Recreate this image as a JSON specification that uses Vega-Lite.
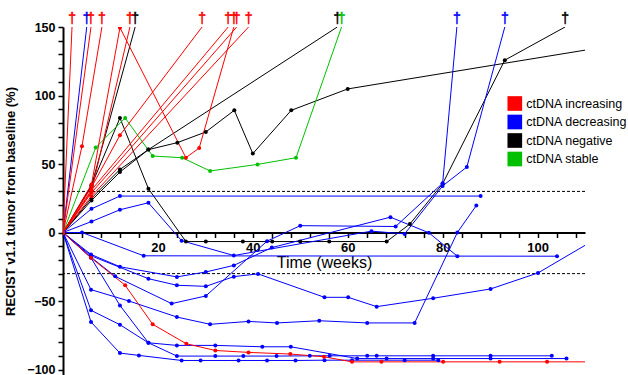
{
  "$schema": "https://vega.github.io/schema/vega-lite/v6.json",
  "width": 522,
  "height": 348,
  "autosize": {"type": "none"},
  "padding": {"left": 63, "top": 27, "right": 43, "bottom": 0},
  "background": "white",
  "config": {
    "view": {"stroke": null},
    "font": "Liberation Sans",
    "axis": {"grid": false, "domainColor": "black", "tickColor": "black", "labelColor": "black", "titleColor": "black"}
  },
  "resolve": {"legend": {"color": "independent", "stroke": "independent"}},
  "datasets": {
    "thresholds": [{"level": 30}, {"level": -30}],
    "patients": [
      {"id": "K1", "g": "ctDNA negative", "t": 0, "v": 0},
      {"id": "K1", "g": "ctDNA negative", "t": 6, "v": 34},
      {"id": "K1", "g": "ctDNA negative", "t": 15.2, "v": 150, "d": 1},
      {"id": "K2", "g": "ctDNA negative", "t": 0, "v": 0},
      {"id": "K2", "g": "ctDNA negative", "t": 6, "v": 34.4},
      {"id": "K2", "g": "ctDNA negative", "t": 12, "v": 83.6},
      {"id": "K2", "g": "ctDNA negative", "t": 18, "v": 32},
      {"id": "K2", "g": "ctDNA negative", "t": 25.9, "v": -6.6},
      {"id": "K2", "g": "ctDNA negative", "t": 30.1, "v": -6.6},
      {"id": "K2", "g": "ctDNA negative", "t": 37.9, "v": -6.6},
      {"id": "K2", "g": "ctDNA negative", "t": 44.1, "v": -6.6},
      {"id": "K2", "g": "ctDNA negative", "t": 50, "v": -6.6},
      {"id": "K2", "g": "ctDNA negative", "t": 56.1, "v": -6.6},
      {"id": "K2", "g": "ctDNA negative", "t": 68.2, "v": -6.6},
      {"id": "K2", "g": "ctDNA negative", "t": 73.1, "v": 6.2},
      {"id": "K2", "g": "ctDNA negative", "t": 80, "v": 35.6},
      {"id": "K2", "g": "ctDNA negative", "t": 93.1, "v": 125.8},
      {"id": "K2", "g": "ctDNA negative", "t": 105.8, "v": 150, "d": 1},
      {"id": "K3", "g": "ctDNA negative", "t": 0, "v": 0},
      {"id": "K3", "g": "ctDNA negative", "t": 6, "v": 23.4},
      {"id": "K3", "g": "ctDNA negative", "t": 12, "v": 44.1},
      {"id": "K3", "g": "ctDNA negative", "t": 18, "v": 60.5},
      {"id": "K3", "g": "ctDNA negative", "t": 57.8, "v": 150, "d": 1},
      {"id": "K4", "g": "ctDNA negative", "t": 0, "v": 0},
      {"id": "K4", "g": "ctDNA negative", "t": 6, "v": 25},
      {"id": "K4", "g": "ctDNA negative", "t": 12, "v": 46},
      {"id": "K4", "g": "ctDNA negative", "t": 18, "v": 60.5},
      {"id": "K4", "g": "ctDNA negative", "t": 24.1, "v": 65.6},
      {"id": "K4", "g": "ctDNA negative", "t": 30.1, "v": 73.4},
      {"id": "K4", "g": "ctDNA negative", "t": 36.1, "v": 89.2},
      {"id": "K4", "g": "ctDNA negative", "t": 40, "v": 57.6},
      {"id": "K4", "g": "ctDNA negative", "t": 48.1, "v": 89.2},
      {"id": "K4", "g": "ctDNA negative", "t": 60, "v": 104.8},
      {"id": "K4", "g": "ctDNA negative", "t": 116, "v": 136.5},
      {"id": "G1", "g": "ctDNA stable", "t": 0, "v": 0},
      {"id": "G1", "g": "ctDNA stable", "t": 6.9, "v": 62},
      {"id": "G1", "g": "ctDNA stable", "t": 13.1, "v": 83.6},
      {"id": "G1", "g": "ctDNA stable", "t": 18.9, "v": 55.8},
      {"id": "G1", "g": "ctDNA stable", "t": 25.1, "v": 54.6},
      {"id": "G1", "g": "ctDNA stable", "t": 31, "v": 44.9},
      {"id": "G1", "g": "ctDNA stable", "t": 41, "v": 49.7},
      {"id": "G1", "g": "ctDNA stable", "t": 49.1, "v": 54.6},
      {"id": "G1", "g": "ctDNA stable", "t": 58.7, "v": 150, "d": 1},
      {"id": "B1", "g": "ctDNA decreasing", "t": 0, "v": 0},
      {"id": "B1", "g": "ctDNA decreasing", "t": 5, "v": 150, "d": 1},
      {"id": "B2", "g": "ctDNA decreasing", "t": 0, "v": 0},
      {"id": "B2", "g": "ctDNA decreasing", "t": 6, "v": 17.3},
      {"id": "B2", "g": "ctDNA decreasing", "t": 12, "v": 26.6},
      {"id": "B2", "g": "ctDNA decreasing", "t": 88, "v": 26.6},
      {"id": "B3", "g": "ctDNA decreasing", "t": 0, "v": 0},
      {"id": "B3", "g": "ctDNA decreasing", "t": 6, "v": 8},
      {"id": "B3", "g": "ctDNA decreasing", "t": 12, "v": 16.6},
      {"id": "B3", "g": "ctDNA decreasing", "t": 18, "v": 21.7},
      {"id": "B3", "g": "ctDNA decreasing", "t": 25, "v": -6},
      {"id": "B3", "g": "ctDNA decreasing", "t": 36, "v": -16.8},
      {"id": "B3", "g": "ctDNA decreasing", "t": 65, "v": 1},
      {"id": "B3", "g": "ctDNA decreasing", "t": 72, "v": -1},
      {"id": "B3", "g": "ctDNA decreasing", "t": 80, "v": 34},
      {"id": "B3", "g": "ctDNA decreasing", "t": 85.1, "v": 47.8},
      {"id": "B3", "g": "ctDNA decreasing", "t": 93.1, "v": 150, "d": 1},
      {"id": "B4", "g": "ctDNA decreasing", "t": 0, "v": 0},
      {"id": "B4", "g": "ctDNA decreasing", "t": 4, "v": 0},
      {"id": "B4", "g": "ctDNA decreasing", "t": 17, "v": -17},
      {"id": "B4", "g": "ctDNA decreasing", "t": 104.1, "v": -17.3},
      {"id": "B5", "g": "ctDNA decreasing", "t": 0, "v": 0},
      {"id": "B5", "g": "ctDNA decreasing", "t": 5.9, "v": -16},
      {"id": "B5", "g": "ctDNA decreasing", "t": 12, "v": -25},
      {"id": "B5", "g": "ctDNA decreasing", "t": 24, "v": -32.4},
      {"id": "B5", "g": "ctDNA decreasing", "t": 30.1, "v": -28.8},
      {"id": "B5", "g": "ctDNA decreasing", "t": 36, "v": -24},
      {"id": "B5", "g": "ctDNA decreasing", "t": 44, "v": -11},
      {"id": "B5", "g": "ctDNA decreasing", "t": 69, "v": 11.2},
      {"id": "B5", "g": "ctDNA decreasing", "t": 77.1, "v": -0.2},
      {"id": "B5", "g": "ctDNA decreasing", "t": 83.1, "v": -17.3},
      {"id": "B7", "g": "ctDNA decreasing", "t": 0, "v": 0},
      {"id": "B7", "g": "ctDNA decreasing", "t": 5.9, "v": -17},
      {"id": "B7", "g": "ctDNA decreasing", "t": 18, "v": -33.7},
      {"id": "B7", "g": "ctDNA decreasing", "t": 24, "v": -38.5},
      {"id": "B7", "g": "ctDNA decreasing", "t": 30.1, "v": -39.3},
      {"id": "B7", "g": "ctDNA decreasing", "t": 36, "v": -32.2},
      {"id": "B7", "g": "ctDNA decreasing", "t": 41.1, "v": -30.2},
      {"id": "B7", "g": "ctDNA decreasing", "t": 55.1, "v": -47.3},
      {"id": "B7", "g": "ctDNA decreasing", "t": 60.1, "v": -47.3},
      {"id": "B7", "g": "ctDNA decreasing", "t": 66.1, "v": -54.1},
      {"id": "B7", "g": "ctDNA decreasing", "t": 78, "v": -48},
      {"id": "B7", "g": "ctDNA decreasing", "t": 90.1, "v": -41.2},
      {"id": "B7", "g": "ctDNA decreasing", "t": 100.1, "v": -29.5},
      {"id": "B7", "g": "ctDNA decreasing", "t": 116, "v": 2.8},
      {"id": "B8", "g": "ctDNA decreasing", "t": 0, "v": 0},
      {"id": "B8", "g": "ctDNA decreasing", "t": 5.9, "v": -41.7},
      {"id": "B8", "g": "ctDNA decreasing", "t": 13.9, "v": -50},
      {"id": "B8", "g": "ctDNA decreasing", "t": 24, "v": -61.7},
      {"id": "B8", "g": "ctDNA decreasing", "t": 31, "v": -67},
      {"id": "B8", "g": "ctDNA decreasing", "t": 39.1, "v": -64.9},
      {"id": "B8", "g": "ctDNA decreasing", "t": 45.1, "v": -66},
      {"id": "B8", "g": "ctDNA decreasing", "t": 54, "v": -64.4},
      {"id": "B8", "g": "ctDNA decreasing", "t": 64.1, "v": -66},
      {"id": "B8", "g": "ctDNA decreasing", "t": 74.1, "v": -66},
      {"id": "B8", "g": "ctDNA decreasing", "t": 83.1, "v": 0},
      {"id": "B8", "g": "ctDNA decreasing", "t": 87.1, "v": 19.7},
      {"id": "B9", "g": "ctDNA decreasing", "t": 0, "v": 0},
      {"id": "B9", "g": "ctDNA decreasing", "t": 5.9, "v": -65.3},
      {"id": "B9", "g": "ctDNA decreasing", "t": 12, "v": -88},
      {"id": "B9", "g": "ctDNA decreasing", "t": 16, "v": -89.7},
      {"id": "B9", "g": "ctDNA decreasing", "t": 25, "v": -93.4},
      {"id": "B9", "g": "ctDNA decreasing", "t": 29, "v": -93.4},
      {"id": "B9", "g": "ctDNA decreasing", "t": 37, "v": -93.4},
      {"id": "B9", "g": "ctDNA decreasing", "t": 43, "v": -93.4},
      {"id": "B9", "g": "ctDNA decreasing", "t": 49, "v": -93.4},
      {"id": "B9", "g": "ctDNA decreasing", "t": 55.1, "v": -93.2},
      {"id": "B9", "g": "ctDNA decreasing", "t": 60.9, "v": -93.2},
      {"id": "B9", "g": "ctDNA decreasing", "t": 72, "v": -93.2},
      {"id": "B9", "g": "ctDNA decreasing", "t": 79.1, "v": -93.2},
      {"id": "B10", "g": "ctDNA decreasing", "t": 0, "v": 0},
      {"id": "B10", "g": "ctDNA decreasing", "t": 5.9, "v": -56.8},
      {"id": "B10", "g": "ctDNA decreasing", "t": 12, "v": -67.3},
      {"id": "B10", "g": "ctDNA decreasing", "t": 18, "v": -80.5},
      {"id": "B10", "g": "ctDNA decreasing", "t": 24, "v": -82.4},
      {"id": "B10", "g": "ctDNA decreasing", "t": 32.1, "v": -82.4},
      {"id": "B10", "g": "ctDNA decreasing", "t": 42, "v": -83.4},
      {"id": "B10", "g": "ctDNA decreasing", "t": 48, "v": -83.4},
      {"id": "B10", "g": "ctDNA decreasing", "t": 62, "v": -92},
      {"id": "B10", "g": "ctDNA decreasing", "t": 68.2, "v": -92},
      {"id": "B10", "g": "ctDNA decreasing", "t": 78, "v": -92},
      {"id": "B10", "g": "ctDNA decreasing", "t": 90.1, "v": -92},
      {"id": "B10", "g": "ctDNA decreasing", "t": 106.1, "v": -92},
      {"id": "B11", "g": "ctDNA decreasing", "t": 0, "v": 0},
      {"id": "B11", "g": "ctDNA decreasing", "t": 5.9, "v": -18.5},
      {"id": "B11", "g": "ctDNA decreasing", "t": 12, "v": -53.2},
      {"id": "B11", "g": "ctDNA decreasing", "t": 18, "v": -80.5},
      {"id": "B11", "g": "ctDNA decreasing", "t": 24, "v": -90.2},
      {"id": "B11", "g": "ctDNA decreasing", "t": 32.1, "v": -90.2},
      {"id": "B11", "g": "ctDNA decreasing", "t": 38, "v": -90.2},
      {"id": "B11", "g": "ctDNA decreasing", "t": 45, "v": -90.2},
      {"id": "B11", "g": "ctDNA decreasing", "t": 52, "v": -90},
      {"id": "B11", "g": "ctDNA decreasing", "t": 56.2, "v": -90},
      {"id": "B11", "g": "ctDNA decreasing", "t": 64.1, "v": -90},
      {"id": "B11", "g": "ctDNA decreasing", "t": 66.1, "v": -90},
      {"id": "B11", "g": "ctDNA decreasing", "t": 78, "v": -90},
      {"id": "B11", "g": "ctDNA decreasing", "t": 90.1, "v": -90},
      {"id": "B11", "g": "ctDNA decreasing", "t": 103, "v": -90},
      {"id": "B12", "g": "ctDNA decreasing", "t": 0, "v": 0},
      {"id": "B12", "g": "ctDNA decreasing", "t": 5.9, "v": -18},
      {"id": "B12", "g": "ctDNA decreasing", "t": 11, "v": -32},
      {"id": "B12", "g": "ctDNA decreasing", "t": 22.9, "v": -51.9},
      {"id": "B12", "g": "ctDNA decreasing", "t": 30.1, "v": -46.3},
      {"id": "B12", "g": "ctDNA decreasing", "t": 43, "v": -6.3},
      {"id": "B12", "g": "ctDNA decreasing", "t": 50, "v": 5},
      {"id": "B12", "g": "ctDNA decreasing", "t": 70.1, "v": 4.4},
      {"id": "B12", "g": "ctDNA decreasing", "t": 80, "v": 36},
      {"id": "B12", "g": "ctDNA decreasing", "t": 83, "v": 150, "d": 1},
      {"id": "R1", "g": "ctDNA increasing", "t": 0, "v": 0},
      {"id": "R1", "g": "ctDNA increasing", "t": 1.9, "v": 150, "d": 1},
      {"id": "R2", "g": "ctDNA increasing", "t": 0, "v": 0},
      {"id": "R2", "g": "ctDNA increasing", "t": 5.9, "v": 150, "d": 1},
      {"id": "R3", "g": "ctDNA increasing", "t": 0, "v": 0},
      {"id": "R3", "g": "ctDNA increasing", "t": 4, "v": 63},
      {"id": "R3", "g": "ctDNA increasing", "t": 8.2, "v": 150, "d": 1},
      {"id": "R4", "g": "ctDNA increasing", "t": 0, "v": 0},
      {"id": "R4", "g": "ctDNA increasing", "t": 6, "v": 30},
      {"id": "R4", "g": "ctDNA increasing", "t": 14.1, "v": 150, "d": 1},
      {"id": "R5", "g": "ctDNA increasing", "t": 0, "v": 0},
      {"id": "R5", "g": "ctDNA increasing", "t": 6, "v": 35},
      {"id": "R5", "g": "ctDNA increasing", "t": 12, "v": 149.5},
      {"id": "R5", "g": "ctDNA increasing", "t": 25.9, "v": 54.6},
      {"id": "R5", "g": "ctDNA increasing", "t": 28.7, "v": 61.7},
      {"id": "R5", "g": "ctDNA increasing", "t": 36, "v": 150, "d": 1},
      {"id": "R6", "g": "ctDNA increasing", "t": 0, "v": 0},
      {"id": "R6", "g": "ctDNA increasing", "t": 6, "v": 33},
      {"id": "R6", "g": "ctDNA increasing", "t": 12, "v": 71},
      {"id": "R6", "g": "ctDNA increasing", "t": 29.3, "v": 150, "d": 1},
      {"id": "R7", "g": "ctDNA increasing", "t": 0, "v": 0},
      {"id": "R7", "g": "ctDNA increasing", "t": 6, "v": 31},
      {"id": "R7", "g": "ctDNA increasing", "t": 34.8, "v": 150, "d": 1},
      {"id": "R8", "g": "ctDNA increasing", "t": 0, "v": 0},
      {"id": "R8", "g": "ctDNA increasing", "t": 6, "v": 29},
      {"id": "R8", "g": "ctDNA increasing", "t": 36.6, "v": 150, "d": 1},
      {"id": "R9", "g": "ctDNA increasing", "t": 0, "v": 0},
      {"id": "R9", "g": "ctDNA increasing", "t": 6, "v": 26.5},
      {"id": "R9", "g": "ctDNA increasing", "t": 39.1, "v": 150, "d": 1},
      {"id": "R10", "g": "ctDNA increasing", "t": 0, "v": 0},
      {"id": "R10", "g": "ctDNA increasing", "t": 5.9, "v": -18.5},
      {"id": "R10", "g": "ctDNA increasing", "t": 13.1, "v": -38.5},
      {"id": "R10", "g": "ctDNA increasing", "t": 18.9, "v": -67},
      {"id": "R10", "g": "ctDNA increasing", "t": 26, "v": -81.2},
      {"id": "R10", "g": "ctDNA increasing", "t": 32.1, "v": -86.1},
      {"id": "R10", "g": "ctDNA increasing", "t": 39.1, "v": -87.5},
      {"id": "R10", "g": "ctDNA increasing", "t": 47.9, "v": -88.7},
      {"id": "R10", "g": "ctDNA increasing", "t": 55, "v": -90.7},
      {"id": "R10", "g": "ctDNA increasing", "t": 60.9, "v": -94.4},
      {"id": "R10", "g": "ctDNA increasing", "t": 67.1, "v": -94.4},
      {"id": "R10", "g": "ctDNA increasing", "t": 80.1, "v": -94.4},
      {"id": "R10", "g": "ctDNA increasing", "t": 92, "v": -94.4},
      {"id": "R10", "g": "ctDNA increasing", "t": 102, "v": -94.4},
      {"id": "R10", "g": "ctDNA increasing", "t": 116, "v": -94.4}
    ]
  },
  "encoding": {
    "x": {
      "field": "t", "type": "quantitative",
      "scale": {"domain": [0, 110], "nice": false, "zero": false},
      "axis": {
        "title": "Time (weeks)",
        "offset": -142.5,
        "values": [0, 4, 8, 12, 16, 20, 24, 28, 32, 36, 40, 44, 48, 52, 56, 60, 64, 68, 72, 76, 80, 84, 88, 92, 96, 100, 104, 108],
        "labelExpr": "datum.value > 0 && datum.value % 20 === 0 ? datum.label : ''",
        "labelOverlap": false,
        "labelFont": "Liberation Sans", "labelFontWeight": "bold", "labelFontSize": 13,
        "labelPadding": 4,
        "tickSize": 5, "tickWidth": 1.5, "domainWidth": 2,
        "titleFont": "Liberation Sans", "titleFontWeight": "normal", "titleFontSize": 16,
        "titlePadding": 0
      }
    },
    "y": {
      "field": "v", "type": "quantitative",
      "scale": {"domain": [-104, 150], "nice": false, "zero": false},
      "axis": {
        "title": "RECIST v1.1 tumor from baseline (%)",
        "values": [-100, -90, -80, -70, -60, -50, -40, -30, -20, -10, 0, 10, 20, 30, 40, 50, 60, 70, 80, 90, 100, 110, 120, 130, 140, 150],
        "labelExpr": "datum.value % 50 === 0 ? datum.label : ''",
        "labelOverlap": false,
        "labelFont": "Liberation Sans", "labelFontWeight": "bold", "labelFontSize": 12.5,
        "labelPadding": 3,
        "tickSize": 5, "tickWidth": 1.5, "domainWidth": 2,
        "titleFont": "Liberation Sans", "titleFontWeight": "bold", "titleFontSize": 13,
        "titlePadding": 9
      }
    }
  },
  "layer": [
    {
      "data": {"name": "thresholds"},
      "mark": {"type": "rule", "color": "black", "strokeWidth": 1, "strokeDash": [3, 2]},
      "encoding": {"y": {"field": "level", "type": "quantitative"}, "x": null}
    },
    {
      "data": {"name": "patients"},
      "mark": {"type": "line", "strokeWidth": 1, "clip": true},
      "encoding": {
        "detail": {"field": "id"},
        "color": {"field": "g", "type": "nominal", "legend": null,
          "scale": {"domain": ["ctDNA increasing", "ctDNA decreasing", "ctDNA negative", "ctDNA stable"], "range": ["#ff0000", "#0000ff", "#000000", "#00c000"]}}
      }
    },
    {
      "data": {"name": "patients"},
      "transform": [{"filter": "datum.d !== 1"}],
      "mark": {"type": "point", "filled": true, "size": 16, "opacity": 1, "clip": true},
      "encoding": {
        "detail": {"field": "id"},
        "color": {"field": "g", "type": "nominal",
          "legend": {
            "title": null, "orient": "none", "legendX": 444.3, "legendY": 69, "padding": 0,
            "symbolType": "square", "symbolSize": 215, "symbolStrokeWidth": 0, "symbolOpacity": 1,
            "labelFont": "Liberation Sans", "labelFontSize": 12.5, "labelOffset": 4,
            "rowPadding": 3.5, "labelColor": "black"
          }
        }
      }
    },
    {
      "data": {"name": "patients"},
      "transform": [{"filter": "datum.d === 1"}],
      "mark": {"type": "text", "text": "†", "fontSize": 14, "baseline": "alphabetic", "dy": -4, "font": "Liberation Sans", "strokeWidth": 0.5},
      "encoding": {
        "color": {"field": "g", "type": "nominal", "legend": null},
        "stroke": {"field": "g", "type": "nominal", "legend": null, "scale": {"domain": ["ctDNA increasing", "ctDNA decreasing", "ctDNA negative", "ctDNA stable"], "range": ["#ff0000", "#0000ff", "#000000", "#00c000"]}}
      }
    }
  ]
}
